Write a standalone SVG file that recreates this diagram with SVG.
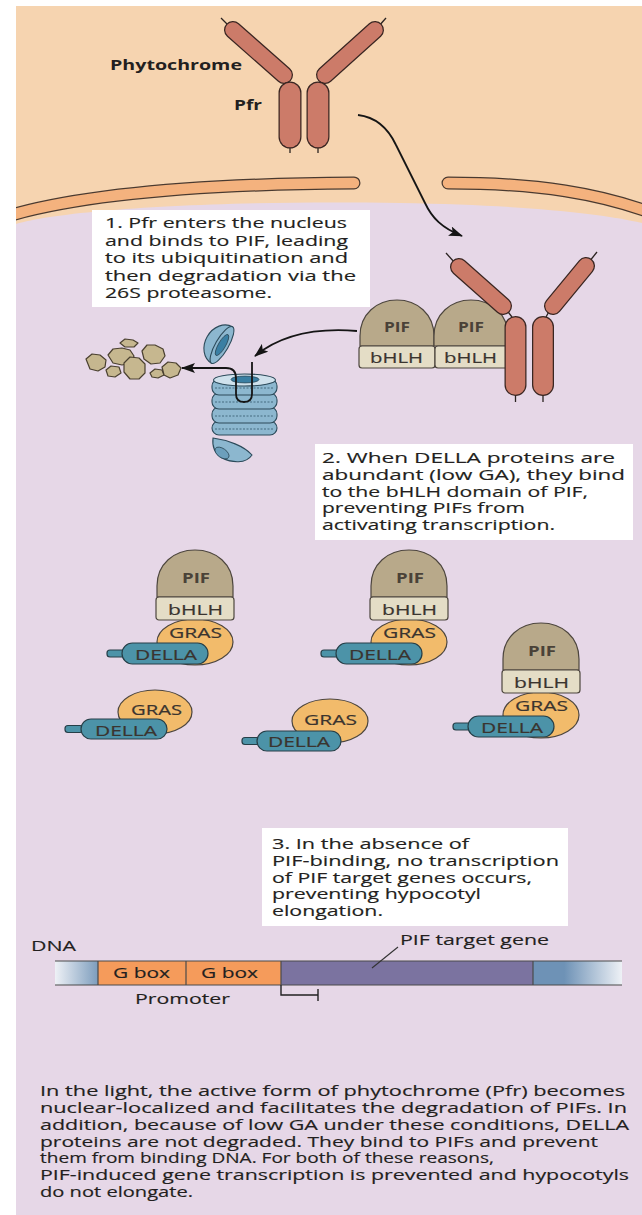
<svg xmlns="http://www.w3.org/2000/svg" width="642" height="1215" viewBox="0 0 642 1215">
<defs>
<style>
 text{font-family:'Open Sans','DejaVu Sans',sans-serif;}
 .box{fill:#ffffff}
 .bt{font-size:14.5px;fill:#231f20;stroke:#231f20;stroke-width:0.15}
 .cap{font-size:14.4px;fill:#231f20;stroke:#231f20;stroke-width:0.15}
 .dl{font-size:15px;fill:#231f20;stroke:#231f20;stroke-width:0.15}
 .lbl{font-size:15px;fill:#3a342f;stroke:#3a342f;stroke-width:0.2}
 .pifl{font-size:14.5px;font-weight:700;fill:#4a4238}
 .head{font-size:15px;font-weight:700;fill:#231f20}
 .rodO{stroke:#3a2622;stroke-linecap:round;fill:none}
 .rodI{stroke:#cc7b69;stroke-linecap:round;fill:none}
 .thin{stroke:#2a2220;stroke-width:1.3;fill:none}
 .dome{fill:#b8a98a;stroke:#4d463e;stroke-width:1.2}
 .bhlh{fill:#e4ddc6;stroke:#4d463e;stroke-width:1.2}
 .gras{fill:#f2bb6b;stroke:#4d463e;stroke-width:1.2}
 .della{fill:#4c93a8;stroke:#263f48;stroke-width:1.2}
 .conn{fill:none;stroke:#151515;stroke-width:1.8}
 .frag{fill:#c6b78f;stroke:#4a4030;stroke-width:1.2;stroke-linejoin:round}
 .prot{fill:#8cb7cf;stroke:#2c4a5a;stroke-width:1.1}
 .ring{fill:none;stroke:#3d6277;stroke-width:0.9;stroke-dasharray:2 1.5}
 .dna{stroke:#4a4a4a;stroke-width:1.2;fill:none}
</style>
<marker id="ah" viewBox="0 0 14 10" refX="13" refY="5" markerWidth="14" markerHeight="10" markerUnits="userSpaceOnUse" orient="auto">
 <path d="M0,0 L14,5 L0,10 L3,5 Z" fill="#151515"/>
</marker>
<clipPath id="panel"><rect x="16" y="6" width="626" height="1209"/></clipPath>
<linearGradient id="dnaL" x1="55" y1="0" x2="98" y2="0" gradientUnits="userSpaceOnUse">
 <stop offset="0" stop-color="#eef1f6"/><stop offset="1" stop-color="#7d9dbd"/>
</linearGradient>
<linearGradient id="dnaR" x1="533" y1="0" x2="622" y2="0" gradientUnits="userSpaceOnUse">
 <stop offset="0" stop-color="#6e92b6"/><stop offset="0.35" stop-color="#6e92b6"/><stop offset="1" stop-color="#eef1f6"/>
</linearGradient>
</defs>

<!-- cytoplasm and nucleus backgrounds -->
<g id="background">
 <rect x="0" y="0" width="642" height="1215" fill="#ffffff"/>
 <rect x="16" y="6" width="626" height="1209" fill="#f6d4b0"/>
 <path d="M16,224 C60,211 200,200 400,203 C520,205 600,213 642,223 L642,1215 L16,1215 Z" fill="#e6d7e7"/>
 <g clip-path="url(#panel)">
  <path d="M8,216 C80,195 200,184 354,183" stroke="#4a3a30" stroke-width="13" stroke-linecap="round" fill="none"/>
  <path d="M8,216 C80,195 200,184 354,183" stroke="#f4b27e" stroke-width="10.5" stroke-linecap="round" fill="none"/>
  <path d="M448,183 C540,183 600,194 652,213" stroke="#4a3a30" stroke-width="13" stroke-linecap="round" fill="none"/>
  <path d="M448,183 C540,183 600,194 652,213" stroke="#f4b27e" stroke-width="10.5" stroke-linecap="round" fill="none"/>
 </g>
</g>

<!-- phytochrome dimer in the cytoplasm -->
<g id="phytochrome-cyto">
 <line class="thin" x1="221" y1="18" x2="230" y2="27"/>
 <line class="thin" x1="386" y1="18" x2="378" y2="27"/>
 <line class="thin" x1="285" y1="76" x2="289" y2="84"/>
 <line class="thin" x1="324" y1="76" x2="319" y2="84"/>
 <line class="thin" x1="290" y1="146" x2="290" y2="153"/>
 <line class="thin" x1="318" y1="146" x2="318" y2="153"/>
 <line class="rodO" x1="233" y1="30" x2="284" y2="75" stroke-width="18"/>
 <line class="rodI" x1="233" y1="30" x2="284" y2="75" stroke-width="15.5"/>
 <line class="rodO" x1="375" y1="30" x2="325" y2="75" stroke-width="18"/>
 <line class="rodI" x1="375" y1="30" x2="325" y2="75" stroke-width="15.5"/>
 <line class="rodO" x1="290" y1="93" x2="290" y2="137" stroke-width="23"/>
 <line class="rodI" x1="290" y1="93" x2="290" y2="137" stroke-width="20.5"/>
 <line class="rodO" x1="318" y1="93" x2="318" y2="137" stroke-width="23"/>
 <line class="rodI" x1="318" y1="93" x2="318" y2="137" stroke-width="20.5"/>
 <text class="head" x="110" y="70" textLength="132" lengthAdjust="spacingAndGlyphs">Phytochrome</text>
 <text class="head" x="234" y="110" textLength="28" lengthAdjust="spacingAndGlyphs">Pfr</text>
</g>

<!-- step 1 caption -->
<g id="note1">
 <rect class="box" x="92" y="210" width="278" height="97"/>
 <text class="bt" x="105" y="228.3" textLength="242" lengthAdjust="spacingAndGlyphs">1. Pfr enters the nucleus</text>
 <text class="bt" x="105" y="245.7" textLength="243" lengthAdjust="spacingAndGlyphs">and binds to PIF, leading</text>
 <text class="bt" x="105" y="263.1" textLength="243" lengthAdjust="spacingAndGlyphs">to its ubiquitination and</text>
 <text class="bt" x="105" y="280.5" textLength="251" lengthAdjust="spacingAndGlyphs">then degradation via the</text>
 <text class="bt" x="105" y="297.9" textLength="167" lengthAdjust="spacingAndGlyphs">26S proteasome.</text>
</g>

<!-- PIF pair bound by nuclear Pfr -->
<g id="pif-pair">
 <path class="dome" d="M360,346 V336 C360,314 377,300 397,300 C417,300 434,314 434,336 V346 Z"/>
 <path class="dome" d="M434,346 V336 C434,314 451,300 471,300 C491,300 508,314 508,336 V346 Z"/>
 <rect class="bhlh" x="359" y="346" width="76" height="22" rx="3"/>
 <rect class="bhlh" x="435" y="346" width="73" height="22" rx="3"/>
 <text class="pifl" x="384" y="332" textLength="26" lengthAdjust="spacingAndGlyphs">PIF</text>
 <text class="pifl" x="458" y="332" textLength="26" lengthAdjust="spacingAndGlyphs">PIF</text>
 <text class="lbl" x="370" y="363" textLength="53" lengthAdjust="spacingAndGlyphs">bHLH</text>
 <text class="lbl" x="444" y="363" textLength="53" lengthAdjust="spacingAndGlyphs">bHLH</text>
</g>

<!-- phytochrome dimer inside the nucleus -->
<g id="phytochrome-nuc">
 <line class="thin" x1="446" y1="253" x2="455" y2="263"/>
 <line class="thin" x1="597" y1="252" x2="589" y2="262"/>
 <line class="thin" x1="505" y1="308" x2="512" y2="317"/>
 <line class="thin" x1="551" y1="308" x2="546" y2="317"/>
 <line class="thin" x1="515.5" y1="394" x2="515.5" y2="402"/>
 <line class="thin" x1="543" y1="394" x2="543" y2="402"/>
 <line class="rodO" x1="459" y1="267" x2="503" y2="306" stroke-width="18"/>
 <line class="rodI" x1="459" y1="267" x2="503" y2="306" stroke-width="15.5"/>
 <line class="rodO" x1="586" y1="266" x2="553" y2="306" stroke-width="18"/>
 <line class="rodI" x1="586" y1="266" x2="553" y2="306" stroke-width="15.5"/>
 <line class="rodO" x1="515.5" y1="327" x2="515.5" y2="385" stroke-width="22"/>
 <line class="rodI" x1="515.5" y1="327" x2="515.5" y2="385" stroke-width="19.5"/>
 <line class="rodO" x1="543" y1="327" x2="543" y2="385" stroke-width="22"/>
 <line class="rodI" x1="543" y1="327" x2="543" y2="385" stroke-width="19.5"/>
</g>

<!-- 26S proteasome with detached caps -->
<g id="proteasome">
 <g transform="translate(222,345) rotate(-60)">
  <path class="prot" d="M-21,0 A21,17 0 0 1 21,0 Z"/>
  <ellipse class="prot" cx="0" cy="0" rx="21" ry="6.5" fill="#a9cadc"/>
  <ellipse cx="0" cy="0" rx="12" ry="3.6" fill="#3a7fa3" stroke="#2c4a5a" stroke-width="0.8"/>
 </g>
 <rect class="prot" x="212" y="421" width="65" height="14" rx="7"/>
 <rect class="prot" x="212" y="407" width="65" height="16" rx="7"/>
 <rect class="prot" x="212" y="393" width="65" height="16" rx="7"/>
 <rect class="prot" x="212" y="379" width="65" height="16" rx="7"/>
 <line class="ring" x1="215" y1="388" x2="274" y2="388"/>
 <line class="ring" x1="215" y1="402" x2="274" y2="402"/>
 <line class="ring" x1="215" y1="416" x2="274" y2="416"/>
 <line class="ring" x1="215" y1="429" x2="274" y2="429"/>
 <ellipse cx="244.5" cy="380" rx="31" ry="6" fill="#cfe1ec" stroke="#2c4a5a" stroke-width="1.1"/>
 <ellipse cx="245" cy="379.5" rx="14" ry="3.4" fill="#3a7fa3" stroke="#2c4a5a" stroke-width="0.8"/>
 <path class="prot" d="M213,438 C228,440 244,446 252,455 C246,464 232,463 222,458 C214,453 212,446 213,438 Z"/>
 <ellipse cx="222" cy="453" rx="8" ry="4.5" transform="rotate(35 222 453)" fill="#6c9fbc" stroke="#2c4a5a" stroke-width="0.8"/>
</g>

<!-- peptide fragments released by the proteasome -->
<g id="fragments">
 <path class="frag" d="M120,343 L125,339 L133,340 L138,343 L134,347 L125,347 Z"/>
 <path class="frag" d="M108,355 L113,349 L122,348 L130,350 L134,356 L131,363 L122,365 L113,363 Z"/>
 <path class="frag" d="M86,359 L92,354 L100,355 L106,360 L105,367 L98,371 L90,369 Z"/>
 <path class="frag" d="M106,370 L111,366 L119,367 L121,373 L115,377 L108,376 Z"/>
 <path class="frag" d="M124,363 L130,357 L139,358 L145,364 L145,373 L139,379 L130,379 L124,372 Z"/>
 <path class="frag" d="M142,351 L147,345 L155,345 L163,349 L165,356 L160,363 L151,364 L144,359 Z"/>
 <path class="frag" d="M150,373 L155,369 L162,370 L164,375 L158,378 L152,377 Z"/>
 <path class="frag" d="M162,367 L168,362 L176,363 L181,368 L178,375 L170,378 L164,375 Z"/>
</g>

<!-- step 2 caption -->
<g id="note2">
 <rect class="box" x="315" y="444" width="318" height="96"/>
 <text class="bt" x="322" y="463" textLength="293" lengthAdjust="spacingAndGlyphs">2. When DELLA proteins are</text>
 <text class="bt" x="322" y="479.75" textLength="303" lengthAdjust="spacingAndGlyphs">abundant (low GA), they bind</text>
 <text class="bt" x="322" y="496.5" textLength="266" lengthAdjust="spacingAndGlyphs">to the bHLH domain of PIF,</text>
 <text class="bt" x="322" y="513.25" textLength="203" lengthAdjust="spacingAndGlyphs">preventing PIFs from</text>
 <text class="bt" x="322" y="530" textLength="233" lengthAdjust="spacingAndGlyphs">activating transcription.</text>
</g>

<!-- DELLA-PIF complexes -->
<g id="complex-a" transform="translate(157,550)">
 <ellipse class="gras" cx="38" cy="92" rx="38" ry="23"/>
 <path class="dome" d="M0,47 V36 C0,14 17,0 38,0 C59,0 76,14 76,36 V47 Z"/>
 <rect class="bhlh" x="-1" y="47" width="78" height="23" rx="3"/>
 <rect class="della" x="-50" y="100" width="18" height="7" rx="3"/>
 <rect class="della" x="-35" y="93" width="86" height="21" rx="10.5"/>
 <text class="pifl" x="25" y="33" textLength="28" lengthAdjust="spacingAndGlyphs">PIF</text>
 <text class="lbl" x="11" y="65" textLength="55" lengthAdjust="spacingAndGlyphs">bHLH</text>
 <text class="lbl" x="12" y="88" textLength="53" lengthAdjust="spacingAndGlyphs">GRAS</text>
 <text class="lbl" x="-22" y="110" textLength="62" lengthAdjust="spacingAndGlyphs">DELLA</text>
</g>
<g id="complex-b" transform="translate(371,550)">
 <ellipse class="gras" cx="38" cy="92" rx="38" ry="23"/>
 <path class="dome" d="M0,47 V36 C0,14 17,0 38,0 C59,0 76,14 76,36 V47 Z"/>
 <rect class="bhlh" x="-1" y="47" width="78" height="23" rx="3"/>
 <rect class="della" x="-50" y="100" width="18" height="7" rx="3"/>
 <rect class="della" x="-35" y="93" width="86" height="21" rx="10.5"/>
 <text class="pifl" x="25" y="33" textLength="28" lengthAdjust="spacingAndGlyphs">PIF</text>
 <text class="lbl" x="11" y="65" textLength="55" lengthAdjust="spacingAndGlyphs">bHLH</text>
 <text class="lbl" x="12" y="88" textLength="53" lengthAdjust="spacingAndGlyphs">GRAS</text>
 <text class="lbl" x="-22" y="110" textLength="62" lengthAdjust="spacingAndGlyphs">DELLA</text>
</g>
<g id="complex-c" transform="translate(503,623)">
 <ellipse class="gras" cx="38" cy="92" rx="38" ry="23"/>
 <path class="dome" d="M0,47 V36 C0,14 17,0 38,0 C59,0 76,14 76,36 V47 Z"/>
 <rect class="bhlh" x="-1" y="47" width="78" height="23" rx="3"/>
 <rect class="della" x="-50" y="100" width="18" height="7" rx="3"/>
 <rect class="della" x="-35" y="93" width="86" height="21" rx="10.5"/>
 <text class="pifl" x="25" y="33" textLength="28" lengthAdjust="spacingAndGlyphs">PIF</text>
 <text class="lbl" x="11" y="65" textLength="55" lengthAdjust="spacingAndGlyphs">bHLH</text>
 <text class="lbl" x="12" y="88" textLength="53" lengthAdjust="spacingAndGlyphs">GRAS</text>
 <text class="lbl" x="-22" y="110" textLength="62" lengthAdjust="spacingAndGlyphs">DELLA</text>
</g>

<!-- free DELLA proteins -->
<g id="della-d">
 <ellipse class="gras" cx="155" cy="712" rx="37" ry="22"/>
 <rect class="della" x="65" y="725.5" width="18" height="7" rx="3"/>
 <rect class="della" x="81" y="719" width="86" height="20" rx="10"/>
 <text class="lbl" x="131" y="715" textLength="51" lengthAdjust="spacingAndGlyphs">GRAS</text>
 <text class="lbl" x="95" y="736" textLength="62" lengthAdjust="spacingAndGlyphs">DELLA</text>
</g>
<g id="della-e">
 <ellipse class="gras" cx="330" cy="721" rx="38" ry="22"/>
 <rect class="della" x="242" y="737.5" width="18" height="7" rx="3"/>
 <rect class="della" x="257" y="731" width="84" height="20" rx="10"/>
 <text class="lbl" x="304" y="725" textLength="53" lengthAdjust="spacingAndGlyphs">GRAS</text>
 <text class="lbl" x="268" y="747" textLength="62" lengthAdjust="spacingAndGlyphs">DELLA</text>
</g>

<!-- step 3 caption -->
<g id="note3">
 <rect class="box" x="262" y="828" width="306" height="98"/>
 <text class="bt" x="272" y="849" textLength="197" lengthAdjust="spacingAndGlyphs">3. In the absence of</text>
 <text class="bt" x="272" y="865.75" textLength="287" lengthAdjust="spacingAndGlyphs">PIF-binding, no transcription</text>
 <text class="bt" x="272" y="882.5" textLength="260" lengthAdjust="spacingAndGlyphs">of PIF target genes occurs,</text>
 <text class="bt" x="272" y="899.25" textLength="209" lengthAdjust="spacingAndGlyphs">preventing hypocotyl</text>
 <text class="bt" x="272" y="916" textLength="111" lengthAdjust="spacingAndGlyphs">elongation.</text>
</g>

<!-- DNA with promoter and target gene -->
<g id="dna">
 <rect x="55" y="961" width="43" height="24" fill="url(#dnaL)"/>
 <rect x="98" y="961" width="88" height="24" fill="#f59b5b"/>
 <rect x="186" y="961" width="95" height="24" fill="#f59b5b"/>
 <rect x="281" y="961" width="252" height="24" fill="#7b73a0"/>
 <rect x="533" y="961" width="89" height="24" fill="url(#dnaR)"/>
 <line class="dna" x1="55" y1="961" x2="622" y2="961"/>
 <line class="dna" x1="55" y1="985" x2="622" y2="985"/>
 <line class="dna" x1="98" y1="961" x2="98" y2="985"/>
 <line class="dna" x1="186" y1="961" x2="186" y2="985"/>
 <line class="dna" x1="281" y1="961" x2="281" y2="985"/>
 <line class="dna" x1="533" y1="961" x2="533" y2="985"/>
 <path d="M281,985 V995 H318 M318,989 V1001" stroke="#222" stroke-width="1.4" fill="none"/>
 <line x1="398" y1="947" x2="372" y2="968" stroke="#333" stroke-width="1.1"/>
 <text class="dl" x="31" y="951" textLength="45" lengthAdjust="spacingAndGlyphs">DNA</text>
 <text class="dl" x="113" y="978" textLength="57" lengthAdjust="spacingAndGlyphs">G box</text>
 <text class="dl" x="201" y="978" textLength="57" lengthAdjust="spacingAndGlyphs">G box</text>
 <text class="dl" x="135" y="1004" textLength="95" lengthAdjust="spacingAndGlyphs">Promoter</text>
 <text class="dl" x="400" y="945" textLength="149" lengthAdjust="spacingAndGlyphs">PIF target gene</text>
</g>

<!-- summary caption -->
<g id="summary">
 <text class="cap" x="40" y="1096" textLength="585" lengthAdjust="spacingAndGlyphs">In the light, the active form of phytochrome (Pfr) becomes</text>
 <text class="cap" x="40" y="1112.9" textLength="587" lengthAdjust="spacingAndGlyphs">nuclear-localized and facilitates the degradation of PIFs. In</text>
 <text class="cap" x="40" y="1129.7" textLength="589" lengthAdjust="spacingAndGlyphs">addition, because of low GA under these conditions, DELLA</text>
 <text class="cap" x="40" y="1146.6" textLength="558" lengthAdjust="spacingAndGlyphs">proteins are not degraded. They bind to PIFs and prevent</text>
 <text class="cap" x="40" y="1163.4" textLength="454" lengthAdjust="spacingAndGlyphs">them from binding DNA. For both of these reasons,</text>
 <text class="cap" x="40" y="1180.3" textLength="589" lengthAdjust="spacingAndGlyphs">PIF-induced gene transcription is prevented and hypocotyls</text>
 <text class="cap" x="40" y="1197.1" textLength="153" lengthAdjust="spacingAndGlyphs">do not elongate.</text>
</g>

<!-- connectors -->
<g id="connectors">
 <path class="conn" d="M358,115 C375,117 388,128 396,145 L425,203 C432,218 442,228 462,236" marker-end="url(#ah)"/>
 <path class="conn" d="M357,331 C320,328 283,333 255,356" marker-end="url(#ah)"/>
 <path class="conn" d="M252,362 V394 Q252,402 244,402 Q236,402 236,394 V378 Q236,368 226,368 H182" marker-end="url(#ah)"/>
</g>
</svg>
